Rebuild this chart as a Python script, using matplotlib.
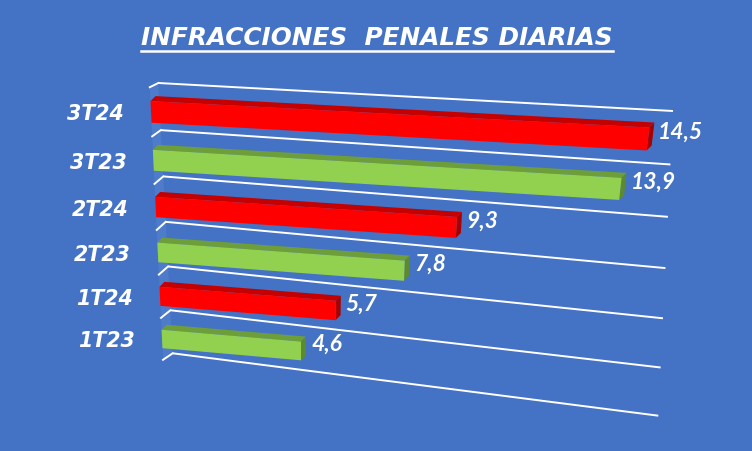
import numpy as np
import matplotlib.pyplot as plt
from matplotlib.patches import Polygon
from matplotlib.transforms import Transform

categories = ['1T23', '1T24', '2T23', '2T24', '3T23', '3T24']
values = [4.6, 5.7, 7.8, 9.3, 13.9, 14.5]
value_labels = ['4,6', '5,7', '7,8', '9,3', '13,9', '14,5']
title = 'INFRACCIONES  PENALES DIARIAS'

x_max = 15
n = len(categories)
bar_h = 0.44
depth = np.array([5.0, -5.0])   # bar depth in pixels (right, up)

bg = '#4472C4'
red, red_top, red_end = '#FF0000', '#C40000', '#A80000'
green, green_top, green_end = '#92D050', '#6E9E3A', '#5E8A2E'


def fit_homography(src, dst):
    A, b = [], []
    for (x, y), (X, Y) in zip(src, dst):
        A.append([x, y, 1, 0, 0, 0, -X * x, -X * y])
        b.append(X)
        A.append([0, 0, 0, x, y, 1, -Y * x, -Y * y])
        b.append(Y)
    h = np.linalg.solve(np.array(A, float), np.array(b, float))
    return np.append(h, 1.0).reshape(3, 3)


class Perspective(Transform):
    input_dims = output_dims = 2

    def __init__(self, H):
        super().__init__()
        self.H = H

    def transform_non_affine(self, pts):
        pts = np.asarray(pts, float).reshape(-1, 2)
        p = np.column_stack([pts, np.ones(len(pts))]) @ self.H.T
        return p[:, :2] / p[:, 2:3]


# plane corners (value, row) -> pixel position of the 3D frame
plane = [(0, 0), (0, n), (x_max, n), (x_max, 0)]
front_px = [(163.0, 360.8), (149.8, 88.2), (669.7, 114.7), (633.6, 402.8)]
back_px = [(172.7, 354.3), (158.3, 84.0), (673.0, 112.0), (658.3, 416.7)]

fig = plt.figure(figsize=(7.52, 4.52), dpi=100, facecolor=bg)
ax = fig.add_axes([0, 0, 1, 1])
ax.set_facecolor(bg)
ax.set_xlim(0, 752)
ax.set_ylim(452, 0)
ax.set_autoscale_on(False)
ax.axis('off')

front_tr = Perspective(fit_homography(plane, front_px))
back_tr = Perspective(fit_homography(plane, back_px))
front = front_tr + ax.transData
back = back_tr + ax.transData

# side wall
rows = np.arange(n + 1)
wall_f = front_tr.transform(np.column_stack([np.zeros(n + 1), rows]))
wall_b = back_tr.transform(np.column_stack([np.zeros(n + 1), rows]))
ax.add_patch(Polygon(np.vstack([wall_f, wall_b[::-1]]), closed=True,
                     facecolor='#4E7CCA', edgecolor='none', zorder=1))

# gridlines on back wall and side wall
for k in rows:
    ax.plot([0, x_max], [k, k], transform=back, color='white', lw=1.4,
            solid_capstyle='butt', zorder=2)
    ax.plot([wall_f[k, 0], wall_b[k, 0]], [wall_f[k, 1], wall_b[k, 1]],
            color='white', lw=1.4, zorder=2)

# bars
pos = np.arange(n) + 0.5
is24 = [c.endswith('24') for c in categories]
ax.barh(pos, values, height=bar_h, left=0, transform=front,
        color=[red if r else green for r in is24], linewidth=0, zorder=4)

for i, v in enumerate(values):
    lo, hi = pos[i] - bar_h / 2, pos[i] + bar_h / 2
    c = front_tr.transform([(0, hi), (v, hi), (v, lo), (0, lo)])
    d = c + depth
    top_col = red_top if is24[i] else green_top
    end_col = red_end if is24[i] else green_end
    ax.add_patch(Polygon([c[0], c[1], d[1], d[0]], closed=True,
                         facecolor=top_col, edgecolor='none', zorder=3))
    ax.add_patch(Polygon([c[1], c[2], d[2], d[1]], closed=True,
                         facecolor=end_col, edgecolor='none', zorder=3))

# category labels
for i, cat in enumerate(categories):
    ax.annotate(cat, xy=(0, pos[i]), xycoords=front, xytext=(-27, -7.5),
                textcoords='offset pixels', ha='right', va='baseline',
                color='white', fontsize=14.8, fontweight='bold',
                fontstyle='italic', family='DejaVu Sans', zorder=6)

# value labels
for i, v in enumerate(values):
    ax.annotate(value_labels[i], xy=(v, pos[i]), xycoords=front,
                xytext=(10, 1), textcoords='offset pixels',
                ha='left', va='baseline', color='white', fontsize=16.5,
                fontweight='bold', fontstyle='italic', family='Lato', zorder=6)

# title with underline
t = fig.text(377 / 752, 1 - 45 / 452, title, ha='center', va='baseline',
             color='white', fontsize=17.8, fontweight='bold',
             fontstyle='italic', family='DejaVu Sans')
fig.canvas.draw()
bb = t.get_window_extent()
fig.add_artist(plt.Line2D([bb.x0, bb.x1], [452 - 52, 452 - 52],
                          transform=None, color='white', lw=1.8))

fig.savefig('out.png', dpi=100, facecolor=bg)
